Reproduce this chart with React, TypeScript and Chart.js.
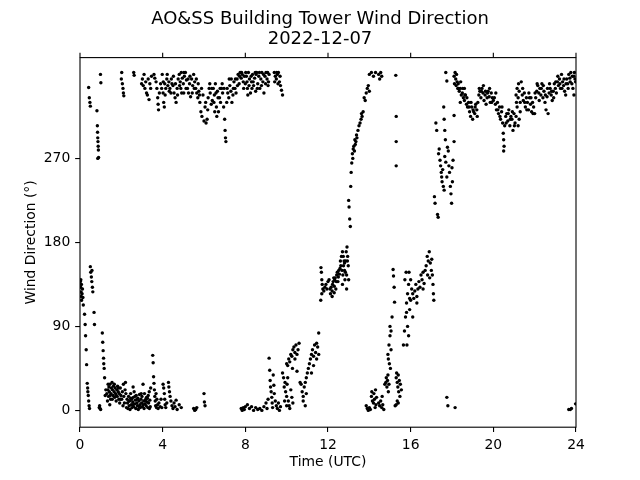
import React, { useEffect, useRef } from "react";
import { Chart, registerables } from "chart.js";

Chart.register(...registerables);

const titleLines = ["AO&SS Building Tower Wind Direction", "2022-12-07"];
const xAxisLabel = "Time (UTC)";
const yAxisLabel = "Wind Direction (°)";
const xTickValues = [0, 4, 8, 12, 16, 20, 24];
const yTickValues = [0, 90, 180, 270];

// [hour UTC, direction in degrees]
const hours00to04: number[][] = [
  [0.02,138],[0.03,132],[0.05,127],[0.06,122],[0.08,118],[0.1,125],[0.12,130],[0.04,140],[0.07,135],[0.14,121],[0.16,113],
  [0.22,103],[0.25,92],[0.27,80],[0.3,65],[0.32,49],[0.35,29],[0.37,24],[0.4,16],[0.42,10],[0.44,5],[0.46,2],[0.38,20],
  [0.5,154],[0.52,148],[0.55,143],[0.57,138],[0.6,132],[0.62,127],[0.58,150],
  [0.68,105],[0.7,92],
  [0.95,5],[0.97,2],[1.0,1],[0.93,3],
  [1.08,83],[1.1,73],[1.12,64],[1.14,56],[1.15,50],[1.17,45],[1.19,35],[1.22,16],[1.25,22],
  [1.3,18],[1.35,22],[1.38,15],[1.4,25],[1.42,20],[1.45,28],[1.48,12],[1.5,18],[1.52,24],[1.55,30],[1.57,22],[1.6,16],
  [1.62,26],[1.65,20],[1.68,14],[1.7,24],[1.72,18],[1.75,10],[1.78,22],[1.8,15],[1.82,26],[1.85,20],[1.88,12],[1.9,18],
  [1.92,8],[1.95,24],[1.98,16],[1.33,10],[1.44,6],
  [1.36,28],[1.46,16],[1.56,12],[1.66,28],[1.76,16],[1.86,24],[1.96,12],
  [2.02,12],[2.05,20],[2.08,5],[2.1,28],[2.12,15],[2.15,8],[2.18,22],[2.2,30],[2.22,18],[2.25,3],[2.28,12],
  [2.3,8],[2.32,2],[2.35,15],[2.38,5],[2.4,10],[2.42,1],[2.45,18],[2.48,6],[2.5,12],[2.52,3],[2.55,9],[2.58,14],[2.6,4],
  [2.62,20],[2.65,7],[2.68,11],[2.7,2],[2.72,16],[2.75,8],[2.78,5],[2.8,13],[2.82,1],[2.85,10],[2.88,17],[2.9,6],[2.92,3],
  [2.95,12],[2.98,8],[3.0,15],[3.02,4],[3.05,28],[3.08,10],[3.1,2],[3.12,18],[3.15,7],[3.18,12],[3.2,5],[3.22,14],[3.25,9],
  [3.28,3],[3.3,16],[3.32,8],[3.35,20],[3.38,11],[3.4,4],[3.42,24],
  [2.36,10],[2.46,13],[2.56,6],[2.66,15],[2.76,12],[2.86,4],[2.96,18],[3.06,6],[3.16,10],[3.26,13],[3.36,2],[2.57,25],
  [3.52,59],[3.54,51],[3.56,36],[3.58,29],[3.6,22],[3.62,15],[3.64,10],[3.66,5],[3.68,18],[3.7,3],[3.72,12],[3.75,6],
  [3.78,2],[3.82,8],[3.88,4],[3.92,12],[3.96,3],
  [0.42,346],[0.45,335],[0.48,330],[0.5,326],
  [0.82,321],[0.84,305],[0.85,298],[0.86,292],[0.87,288],[0.88,283],[0.89,279],[0.86,270],[0.9,271],
  [0.99,360],[1.01,351],
  [2.0,355],[2.02,362],[2.05,350],[2.08,345],[2.1,340],[2.12,337],
  [2.6,362],[2.62,359],
  [2.98,350],[3.02,355],[3.06,348],[3.1,360],[3.14,345],[3.18,352],[3.22,340],[3.26,338],[3.3,355],[3.34,333],[3.38,350],
  [3.42,345],[3.46,358],
  [3.58,360],[3.62,356],[3.68,352],[3.72,345],[3.76,335],[3.78,328],[3.8,322],[3.84,340],[3.9,350],[3.95,345],[3.98,360],
];

const hours04to08: number[][] = [
  [4.02,340],[4.05,330],[4.08,325],[4.1,350],[4.15,345],[4.2,355],[4.25,348],[4.3,352],[4.35,345],[4.4,340],[4.45,350],
  [4.5,348],[4.55,340],[4.6,335],[4.65,330],[4.7,345],[4.75,355],[4.8,360],[4.85,352],[4.9,362],[4.95,356],[5.0,350],
  [5.05,358],[5.1,362],[5.15,354],[5.2,345],[5.25,340],[5.3,350],[5.35,336],[5.4,355],[5.45,348],[5.5,360],[5.55,352],
  [5.6,345],[5.65,340],[5.7,335],[5.75,342],[5.8,330],[5.85,320],[5.9,315],[5.95,338],[6.0,310],[6.05,325],[6.1,308],
  [6.15,312],[6.2,335],[6.25,345],[6.3,340],[6.35,328],[6.4,332],[6.45,345],[6.5,338],[6.55,350],[6.6,325],[6.65,342],
  [6.7,320],[6.75,335],[6.8,330],[6.85,345],[6.9,340],[6.95,325],[7.0,312],[7.02,300],[7.04,292],[7.06,288],[7.1,330],
  [7.15,340],[7.2,335],[7.25,348],[7.3,342],[7.35,330],[7.4,338],[7.45,352],[7.5,345],[7.55,340],[7.6,355],[7.65,360],
  [7.7,350],[7.75,362],[7.8,356],[7.85,360],[7.9,352],[7.95,358],[5.02,340],[5.32,358],[4.88,345],[5.72,350],[6.52,320],
  [6.62,315],[6.97,345],[7.32,355],
  [4.03,352],[4.12,338],[4.22,360],[4.32,342],[4.42,355],[4.52,358],[4.62,350],[4.72,338],[4.82,348],[4.92,340],
  [5.03,362],[5.13,345],[5.23,355],[5.43,340],[5.53,345],[5.63,355],[5.78,338],[5.88,345],[6.08,330],[6.18,322],
  [6.28,350],[6.38,345],[6.48,330],[6.58,340],[6.68,335],[6.78,345],[6.88,350],[7.12,345],[7.22,355],[7.42,345],
  [7.52,355],[7.62,348],[7.72,358],[7.82,362],[7.92,345],
  [4.02,28],[4.05,24],[4.08,18],[4.1,12],[4.12,6],[4.15,3],[4.2,8],[4.28,30],[4.3,25],[4.33,20],[4.36,15],[4.4,10],
  [4.45,5],[4.5,2],[4.55,8],[4.6,4],[4.65,11],[4.7,1],[4.8,6],[4.9,3],[5.5,2],[5.55,0],[5.6,1],[5.65,3],[6.0,18],
  [6.02,9],[6.05,5],[7.8,2],[7.85,0],[7.9,3],[7.95,1],
];

const hours08to12: number[][] = [
  [8.0,350],[8.05,358],[8.1,345],[8.15,362],[8.2,355],[8.25,340],[8.3,352],[8.35,360],[8.4,348],[8.45,356],[8.5,342],
  [8.55,362],[8.6,350],[8.65,358],[8.7,345],[8.75,355],[8.8,362],[8.85,352],[8.9,340],[8.95,358],[9.0,362],[9.05,355],
  [9.1,348],[9.15,360],[9.4,362],[9.45,358],[9.5,355],[9.55,360],[9.6,362],[9.65,352],[9.7,348],[9.75,343],[9.8,338],
  [8.12,338],[8.52,360],[8.32,345],
  [8.02,362],[8.08,352],[8.18,348],[8.28,358],[8.38,352],[8.48,362],[8.58,345],[8.68,362],[8.78,348],[8.88,360],
  [8.98,350],[9.08,362],[9.12,352],[9.42,352],[9.52,362],[9.58,350],[9.68,358],
  [8.0,4],[8.1,6],[8.2,2],[8.3,4],[8.4,0],[8.5,3],[8.6,1],[8.7,2],[8.8,0],[8.9,4],[9.0,8],[9.05,2],[9.1,12],
  [9.15,56],[9.18,43],[9.2,32],[9.22,25],[9.25,20],[9.28,14],[9.3,8],[9.32,3],[9.35,38],[9.38,27],[9.4,18],[9.45,10],
  [9.5,5],[9.55,2],[9.6,8],[9.65,0],[9.7,4],
  [9.8,40],[9.85,35],[9.88,25],[9.92,30],[9.95,20],[10.0,15],[10.02,28],[10.05,35],[10.08,10],[10.12,5],[10.15,2],
  [10.0,5],[9.9,10],[10.2,22],[10.25,14],[10.3,8],
  [10.0,50],[10.05,48],[10.1,55],[10.15,52],[10.2,60],[10.25,58],[10.3,65],[10.35,68],[10.4,62],[10.45,70],[10.5,60],
  [10.55,65],[10.6,72],[10.28,45],[10.4,55],[10.5,42],
  [10.65,30],[10.7,28],[10.75,20],[10.8,15],[10.85,25],[10.9,30],[10.95,35],[11.0,40],[10.8,10],[10.9,5],[10.95,18],
  [11.05,45],[11.1,50],[11.15,55],[11.2,60],[11.25,65],[11.3,58],[11.35,70],[11.4,62],[11.45,55],[11.5,68],[11.55,60],
  [11.2,40],[11.3,48],[11.55,83],[11.45,72],
  [11.66,153],[11.68,148],[11.7,140],[11.72,135],[11.75,130],[11.7,125],[11.65,118],[11.8,128],[11.85,132],[11.9,135],
  [11.95,130],[12.0,138],[12.05,140],
];

const hours12to16: number[][] = [
  [12.1,130],[12.15,132],[12.2,128],[12.22,135],[12.25,138],[12.3,133],[12.32,140],[12.35,142],[12.4,138],[12.42,145],
  [12.45,148],[12.5,143],[12.52,150],[12.55,146],[12.2,122],[12.3,126],[12.38,130],
  [12.12,125],[12.28,142],[12.48,138],[12.58,152],[12.74,165],[12.84,148],[12.94,160],
  [12.6,160],[12.62,155],[12.65,165],[12.68,150],[12.7,170],[12.72,145],[12.75,155],[12.78,160],[12.8,150],[12.82,140],
  [12.85,160],[12.88,170],[12.9,145],[12.92,175],[12.95,165],[12.98,155],[13.0,140],[12.7,135],[12.8,158],[12.9,130],
  [13.0,225],[13.02,218],[13.05,205],[13.08,197],
  [13.1,240],[13.12,255],[13.15,265],[13.18,275],[13.2,270],[13.22,280],[13.25,283],[13.28,278],[13.3,290],[13.32,285],
  [13.35,288],[13.38,295],[13.4,292],
  [13.45,300],[13.5,305],[13.55,308],[13.6,312],[13.62,318],[13.65,315],[13.7,320],
  [13.75,335],[13.8,332],[13.85,340],[13.9,345],[13.95,348],[14.0,342],
  [14.0,360],[14.1,362],[14.2,358],[14.3,362],[14.45,360],[14.55,362],[14.6,358],[14.5,355],
  [15.28,359],[15.3,315],[15.3,288],[15.3,262],
  [13.85,5],[13.9,2],[13.95,0],[14.0,3],[14.05,1],
  [14.1,15],[14.12,20],[14.15,10],[14.2,8],[14.22,18],[14.25,12],[14.3,22],[14.32,6],[14.35,14],[14.28,3],
  [14.45,8],[14.5,5],[14.55,10],[14.6,3],[14.65,6],[14.7,1],[14.62,15],
  [14.75,28],[14.8,30],[14.82,35],[14.85,25],[14.88,32],[14.9,38],[14.92,20],[14.95,28],
  [14.9,60],[14.92,55],[14.95,70],[14.97,50],[15.0,80],[15.02,45],[15.05,65],[15.0,90],
  [15.15,151],[15.17,144],[15.2,132],[15.22,116],[15.1,100],[15.05,85],
  [15.3,35],[15.32,40],[15.35,30],[15.38,25],[15.4,38],[15.42,20],[15.45,32],[15.48,15],[15.5,28],[15.35,10],[15.4,8],
  [15.25,5],[15.3,6],[15.55,22],
  [15.65,70],[15.7,85],[15.75,100],[15.8,115],[15.85,125],[15.9,135],[15.92,148],[15.95,120],[16.0,140],[15.78,148],
  [15.72,140],[15.8,105],[15.85,90],[15.9,80],[15.82,70],
];

const hours16to20: number[][] = [
  [16.05,130],[16.1,125],[16.15,120],[16.2,128],[16.25,135],[16.3,122],[16.35,130],[16.4,138],[16.45,132],[16.5,145],
  [16.55,140],[16.6,148],[16.65,136],[16.7,150],[16.75,155],[16.8,165],[16.85,160],[16.9,170],[16.95,158],[17.0,150],
  [17.02,162],[17.05,145],[17.08,135],[17.1,125],[17.12,118],[16.82,145],[16.92,142],[16.3,115],[16.6,130],[16.0,118],
  [15.95,108],[16.1,100],
  [17.15,229],[17.18,222],[17.3,210],[17.33,207],
  [17.22,308],[17.26,300],
  [17.35,275],[17.38,280],[17.42,268],[17.45,262],[17.48,255],[17.5,250],[17.52,245],[17.55,258],[17.58,240],[17.62,236],
  [17.65,272],[17.7,266],[17.75,250],[17.78,282],[17.82,278],[17.85,262],[17.88,255],[17.92,240],[17.95,232],[17.98,222],
  [18.0,260],[18.02,245],[18.05,268],
  [17.6,325],[17.62,312],[17.65,300],[17.68,290],
  [17.7,362],[17.75,353],
  [18.1,316],[18.1,288],
  [18.1,358],[18.12,350],[18.15,362],[18.18,355],[18.2,348],[18.25,352],[18.28,345],[18.3,350],[18.35,342],[18.4,345],
  [18.45,338],[18.5,340],[18.55,335],[18.6,332],[18.65,338],[18.7,328],[18.75,325],[18.8,330],[18.85,320],[18.9,315],
  [18.95,325],[19.0,312],[19.05,320],[19.1,318],[19.15,328],[19.2,322],[19.3,338],[19.35,342],[19.4,335],[19.45,345],
  [19.5,340],[19.55,332],[19.6,338],[19.65,328],[19.7,335],[19.75,342],[19.8,336],[19.85,330],[19.9,340],[19.95,335],
  [20.0,332],[18.4,330],[18.6,345],[19.25,330],
  [18.22,360],[18.32,345],[18.42,352],[18.52,345],[18.62,338],[18.72,335],[18.82,325],[18.92,330],[19.02,322],
  [19.12,325],[19.22,315],[19.32,345],[19.42,342],[19.52,348],[19.62,342],[19.72,340],[19.82,345],[19.92,330],
  [17.75,14],[17.8,5],[18.15,3],
];

const hours20to24: number[][] = [
  [20.05,335],[20.1,328],[20.15,322],[20.2,330],[20.25,318],[20.3,325],[20.35,312],[20.4,320],[20.45,308],[20.48,297],
  [20.5,290],[20.52,283],[20.5,278],[20.55,305],[20.6,315],[20.65,318],[20.7,310],[20.75,322],[20.8,305],[20.85,315],
  [20.9,312],[20.95,300],[21.0,318],[21.05,308],[21.1,315],[21.15,325],[21.2,305],[21.25,312],[21.3,320],[21.1,338],
  [21.15,345],[21.2,335],[21.25,342],[21.3,330],[21.35,352],[21.4,338],[21.45,332],[21.5,340],[21.55,325],[21.6,335],
  [21.65,330],[21.7,322],[21.75,335],[21.8,328],[21.85,320],[21.9,330],[21.95,325],[22.0,318],[22.05,335],[22.1,342],
  [22.15,348],[22.2,340],[22.25,345],[22.3,338],[22.35,350],[22.4,335],[22.45,342],[22.5,330],[22.55,322],[22.6,336],
  [22.65,318],[22.7,340],[22.75,345],[22.8,338],[22.85,332],[22.9,342],[22.95,350],[23.0,345],[23.05,340],[23.1,352],
  [23.15,348],[23.2,355],[23.25,345],[23.3,360],[23.35,352],[23.4,348],[23.45,342],[23.5,338],[23.55,355],[23.6,350],
  [23.65,360],[23.7,356],[23.75,362],[23.8,350],[23.85,345],[23.9,358],[23.95,355],[23.9,338],[23.98,352],
  [20.12,340],[20.22,322],[20.32,315],[20.42,325],[20.62,308],[20.72,318],[20.82,312],[20.92,320],[21.02,305],
  [21.12,330],[21.22,350],[21.42,345],[21.52,330],[21.62,322],[21.72,340],[21.82,335],[21.92,318],[22.02,340],
  [22.12,350],[22.22,332],[22.32,345],[22.42,348],[22.52,338],[22.62,345],[22.72,350],[22.82,342],[22.92,335],
  [23.02,352],[23.12,358],[23.22,350],[23.32,345],[23.42,355],[23.52,350],[23.62,345],[23.72,352],[23.82,358],[23.92,362],
  [23.65,1],[23.72,1],[23.78,2],[23.98,7],
];

const FONT = "'DejaVu Sans', sans-serif";

export default function App() {
  const canvasRef = useRef<HTMLCanvasElement | null>(null);

  useEffect(() => {
    const canvas = canvasRef.current;
    if (!canvas) return;
    const points = [
      ...hours00to04, ...hours04to08, ...hours08to12,
      ...hours12to16, ...hours16to20, ...hours20to24,
    ].map(([x, y]) => ({ x, y }));

    const framePlugin = {
      id: "framePlugin",
      afterDraw(chart: any) {
        const { ctx, chartArea } = chart;
        const { left, right, top, bottom } = chartArea;
        const xs = chart.scales.x;
        ctx.save();
        ctx.strokeStyle = "#000";
        ctx.lineWidth = 1.1;
        ctx.strokeRect(left, top, right - left, bottom - top);
        for (const v of xTickValues) {
          const px = xs.getPixelForValue(v);
          ctx.beginPath();
          ctx.moveTo(px, top);
          ctx.lineTo(px, top - 4.86);
          ctx.stroke();
        }
        ctx.fillStyle = "#000";
        ctx.textAlign = "center";
        ctx.textBaseline = "alphabetic";
        ctx.font = `18px ${FONT}`;
        ctx.fillText(titleLines[0], 320, 24.3);
        ctx.fillText(titleLines[1], 320, 44.3);
        const cx = (left + right) / 2;
        ctx.font = `13.9px ${FONT}`;
        ctx.fillText(xAxisLabel, cx, 466);
        ctx.save();
        ctx.translate(31, (top + bottom) / 2);
        ctx.rotate(-Math.PI / 2);
        ctx.textBaseline = "middle";
        ctx.fillText(yAxisLabel, 0, 0);
        ctx.restore();
        ctx.restore();
      },
    };

    const chart = new Chart(canvas, {
      type: "scatter",
      data: {
        datasets: [
          {
            data: points,
            backgroundColor: "#000",
            borderColor: "#000",
            borderWidth: 0,
            pointRadius: 1.7,
            pointHoverRadius: 1.7,
          },
        ],
      },
      options: {
        animation: false,
        responsive: false,
        devicePixelRatio: 1,
        events: [],
        layout: { padding: { left: 0, right: 64, top: 57.6, bottom: 0 } },
        plugins: {
          legend: { display: false },
          tooltip: { enabled: false },
          title: { display: false },
        },
        scales: {
          x: {
            type: "linear",
            position: "bottom",
            min: 0,
            max: 24,
            afterBuildTicks: (s: any) => {
              s.ticks = xTickValues.map((v) => ({ value: v }));
            },
            afterFit: (s: any) => {
              s.height = 52.8;
            },
            grid: {
              display: true,
              drawOnChartArea: false,
              drawTicks: true,
              tickLength: 4.86,
              color: "#000",
              lineWidth: 1.1,
            },
            border: { display: false },
            ticks: {
              font: { family: FONT, size: 13.9 },
              color: "#000",
              padding: 4.86,
              maxRotation: 0,
              autoSkip: false,
              callback: (v: any) => String(v),
            },
          },
          y: {
            type: "linear",
            position: "left",
            min: -18,
            max: 378,
            afterBuildTicks: (s: any) => {
              s.ticks = yTickValues.map((v) => ({ value: v }));
            },
            afterFit: (s: any) => {
              s.width = 80;
            },
            grid: {
              display: true,
              drawOnChartArea: false,
              drawTicks: true,
              tickLength: 4.86,
              color: "#000",
              lineWidth: 1.1,
            },
            border: { display: false },
            ticks: {
              font: { family: FONT, size: 13.9 },
              color: "#000",
              padding: 4.86,
              autoSkip: false,
              callback: (v: any) => String(v),
            },
          },
        },
      },
      plugins: [framePlugin],
    });
    return () => chart.destroy();
  }, []);

  return (
    <div style={{ position: "absolute", left: 0, top: 0, width: 640, height: 480, background: "#fff" }}>
      <canvas ref={canvasRef} width={640} height={480} style={{ display: "block" }} />
    </div>
  );
}
